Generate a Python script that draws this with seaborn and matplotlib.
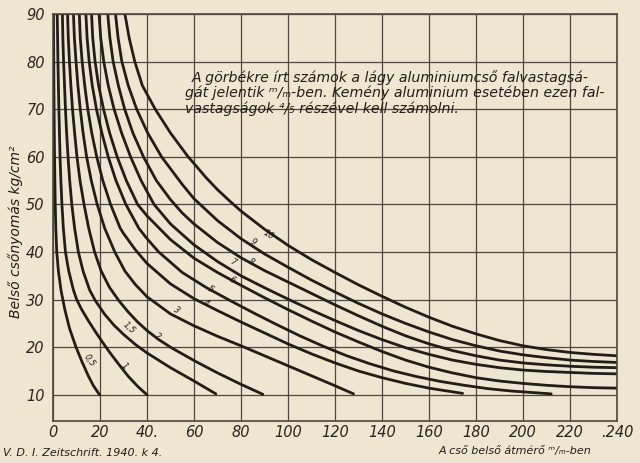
import numpy as np
import pandas as pd
import seaborn as sns
import matplotlib.pyplot as plt

# wall thickness (mm) -> curve: inner diameter d (mm), pressure p (kg/cm2)
d_05 = [0.2, 0.3, 0.45, 0.65, 0.95, 1.2, 1.6, 2.3, 3.4, 5.0, 7.0, 9.8, 12.3, 15.0, 17.1, 19.8]
p_05 = [90, 80, 70, 60, 50, 45, 40, 36, 32, 28, 24, 20, 17, 14, 12, 10]

d_1 = [1.8, 1.95, 2.1, 2.3, 2.5, 2.75, 3.0, 3.35, 3.8, 4.4, 5.3, 6.7, 8.7, 10.1,
       12, 15, 18, 21, 24, 28, 32, 36, 40]
p_1 = [90, 85, 80, 75, 70, 65, 60, 55, 50, 45, 40, 36, 32, 30,
       28.1, 25.6, 23.3, 21.1, 19.0, 16.4, 13.9, 11.8, 10.0]

d_15 = [4.0, 4.2, 4.5, 4.9, 5.3, 5.8, 6.4, 7.1, 8.0, 9.2, 10.8, 12.8, 15.6,
        18, 22, 26, 30, 35, 40, 50, 60, 69.3]
p_15 = [90, 85, 80, 75, 70, 65, 60, 55, 50, 45, 40, 36, 32,
        29.8, 26.9, 24.6, 22.7, 20.6, 18.8, 15.7, 12.9, 10.2]

d_2 = [6.2, 6.5, 7.0, 7.6, 8.3, 9.2, 10.2, 11.5, 13.2, 15.2, 17.7, 20.5,
       24, 28, 32, 36, 40, 45, 50, 60, 70, 80, 89.3]
p_2 = [90, 85, 80, 75, 70, 65, 60, 55, 50, 45, 40, 36,
       32.6, 29.8, 27.4, 25.3, 23.5, 21.6, 20.0, 17.2, 14.6, 12.2, 10.1]

d_3 = [8.7, 9.1, 9.8, 10.6, 11.6, 12.8, 14.3, 16.3, 18.8, 22, 26.3, 30.6,
       35, 40, 50, 60, 70, 80, 90, 100, 110, 120, 127.9]
p_3 = [90, 85, 80, 75, 70, 65, 60, 55, 50, 45, 40, 36,
       33.2, 30.6, 27.0, 24.5, 22.3, 20.3, 18.2, 16.1, 14.0, 11.9, 10.2]

d_4 = [11.2, 11.6, 12.4, 13.5, 14.8, 16.5, 18.6, 21.2, 24.5, 28.6,
       30, 35, 40, 50, 60, 70, 80, 90, 100, 110, 120, 130, 140, 150, 160, 174.3]
p_4 = [90, 85, 80, 75, 70, 65, 60, 55, 50, 45,
       43.9, 40.5, 37.6, 33.3, 30.2, 27.7, 25.3, 23.0, 20.7, 18.6, 16.7, 15.0, 13.6, 12.4, 11.4, 10.3]

d_5 = [14, 14.5, 15.4, 16.7, 18.5, 20.8, 23.5, 26.8, 31, 36.5,
       40, 45, 55, 65, 75, 85, 95, 105, 115, 125, 135, 145, 155, 165, 175, 185, 195, 212]
p_5 = [90, 85, 80, 75, 70, 65, 60, 55, 50, 45,
       42.8, 40.0, 35.7, 32.6, 29.9, 27.3, 24.8, 22.4, 20.2, 18.2, 16.5, 15.0, 13.8, 12.8, 12.0, 11.3, 10.8, 10.2]

d_6 = [16.4, 16.9, 17.9, 19.4, 21.5, 24.1, 27.3, 31.2, 36,
       40, 50, 60, 70, 80, 90, 100, 110, 120, 130, 140, 150, 160, 170, 180, 190, 200, 210, 220, 230, 240]
p_6 = [90, 85, 80, 75, 70, 65, 60, 55, 50,
       47.6, 42.6, 38.7, 35.7, 33.0, 30.4, 27.9, 25.5, 23.2, 21.1, 19.1, 17.3, 15.8, 14.6, 13.6, 12.9, 12.4, 12.0, 11.7, 11.5, 11.4]

d_7 = [19.6, 20.3, 21.6, 23.5, 26, 29.2, 33, 37.5, 43,
       50, 60, 70, 80, 90, 100, 110, 120, 130, 140, 150, 160, 170, 180, 190, 200, 210, 220, 230, 240]
p_7 = [90, 85, 80, 75, 70, 65, 60, 55, 50,
       45.9, 41.5, 38.0, 35.0, 32.5, 30.1, 27.8, 25.6, 23.5, 21.6, 19.9, 18.5, 17.3, 16.4, 15.7, 15.2, 14.9, 14.7, 14.5, 14.4]

d_8 = [23.3, 24.2, 25.6, 27.8, 30.5, 34, 38.5, 44,
       50, 55, 60, 70, 80, 90, 100, 110, 120, 130, 140, 150, 160, 170, 180, 190, 200, 210, 220, 230, 240]
p_8 = [90, 85, 80, 75, 70, 65, 60, 55,
       51.0, 48.2, 45.9, 42.0, 38.8, 36.1, 33.7, 31.3, 28.9, 26.6, 24.4, 22.4, 20.7, 19.3, 18.2, 17.3, 16.7, 16.3, 16.0, 15.8, 15.7]

d_9 = [26.6, 27.7, 29.3, 32, 35.6, 40.3, 46.2,
       55, 60, 70, 80, 90, 100, 110, 120, 130, 140, 150, 160, 170, 180, 190, 200, 210, 220, 230, 240]
p_9 = [90, 85, 80, 75, 70, 65, 60,
       54.2, 51.2, 46.6, 42.8, 39.6, 36.8, 34.1, 31.6, 29.2, 27.0, 25.0, 23.2, 21.6, 20.3, 19.2, 18.4, 17.8, 17.3, 17.0, 16.8]

d_10 = [30.6, 32.4, 34.8, 38, 43.5, 50, 57.5,
        60, 65, 70, 75, 80, 90, 100, 110, 120, 130, 140, 150, 160, 170, 180, 190, 200, 210, 220, 230, 240]
p_10 = [90, 85, 80, 75, 70, 65, 60,
        58.6, 55.7, 53.1, 50.8, 48.6, 44.8, 41.4, 38.4, 35.7, 33.1, 30.7, 28.4, 26.3, 24.4, 22.8, 21.4, 20.3, 19.5, 18.9, 18.5, 18.2]

curves = {
    "0,5": (d_05, p_05), "1": (d_1, p_1), "1,5": (d_15, p_15), "2": (d_2, p_2),
    "3": (d_3, p_3), "4": (d_4, p_4), "5": (d_5, p_5), "6": (d_6, p_6),
    "7": (d_7, p_7), "8": (d_8, p_8), "9": (d_9, p_9), "10": (d_10, p_10),
}

# small curve labels written on the lines
label_names = ["0,5", "1", "1,5", "2", "3", "4", "5", "6", "7", "8", "9", "10"]
label_x = [15.5, 30.4, 32.5, 44.6, 52.4, 65.3, 67.2, 76.4, 76.4, 84.3, 85.4, 91.8]
label_y = [17.2, 16.0, 24.0, 22.2, 27.7, 29.3, 32.2, 34.1, 37.8, 37.8, 42.1, 43.6]
label_rot = [-55, -45, -42, -35, -31, -30, -32, -30, -30, -28, -30, -33]

x_ticks = list(range(0, 241, 20))
x_tick_labels = ["0", "20", "40.", "60", "80", "100", "120", "140", "160", "180", "200", "220", ".240"]
y_ticks = list(range(10, 91, 10))

rows = []
for name, (d, p) in curves.items():
    for xi, yi in zip(d, p):
        rows.append({"s": name, "d": xi, "p": yi})
df = pd.DataFrame(rows)

paper = "#efe6d2"
ink = "#211d18"
grid_c = "#4d473f"

sns.set_style("white")
plt.rcParams["font.family"] = ["DejaVu Sans"]

fig = plt.figure(figsize=(6.4, 4.63), dpi=100, facecolor=paper)
ax = fig.add_axes([53 / 640, 1 - 421 / 463, 564 / 640, 407 / 463])
ax.set_facecolor(paper)

sns.lineplot(data=df, x="d", y="p", units="s", estimator=None, sort=False,
             color=ink, lw=2.0, ax=ax, legend=False)

ax.set_xlim(0, 240)
ax.set_ylim(4.5, 90)
ax.set_xticks(x_ticks)
ax.set_xticklabels(x_tick_labels)
ax.set_yticks(y_ticks)
ax.grid(True, color=grid_c, lw=0.9)
ax.tick_params(length=0, labelsize=10.5, labelcolor="#2a2520")
ax.tick_params(axis="x", pad=3)
ax.tick_params(axis="y", pad=6)
for t in ax.get_xticklabels() + ax.get_yticklabels():
    t.set_fontstyle("italic")
for sp in ax.spines.values():
    sp.set_color(grid_c)
    sp.set_linewidth(1.2)
ax.set_xlabel("")
ax.set_ylabel("")

for name, lx, ly, r in zip(label_names, label_x, label_y, label_rot):
    ax.text(lx, ly, name, fontsize=6, style="italic", color=ink,
            rotation=r, ha="center", va="center")

note = ["A görbékre írt számok a lágy aluminiumcső falvastagsá-",
        "gát jelentik ᵐ/ₘ-ben. Kemény aluminium esetében ezen fal-",
        "vastagságok ⁴/₅ részével kell számolni."]
ax.text(59, 76.7, note[0], fontsize=10.2, style="italic", color=ink, va="center")
ax.text(56, 73.4, note[1], fontsize=10.2, style="italic", color=ink, va="center")
ax.text(56, 70.1, note[2], fontsize=10.2, style="italic", color=ink, va="center")

fig.text(0.024, 0.50, "Belső csőnyomás kg/cm²", rotation=90, fontsize=10,
         style="italic", color=ink, ha="center", va="center")
fig.text(0.805, 0.026, "A cső belső átmérő ᵐ/ₘ-ben", fontsize=8,
         style="italic", color=ink, ha="center", va="center")
fig.text(0.005, 0.022, "V. D. I. Zeitschrift. 1940. k 4.", fontsize=8,
         style="italic", color=ink, ha="left", va="center")

fig.savefig("out.png", dpi=100, facecolor=paper)
